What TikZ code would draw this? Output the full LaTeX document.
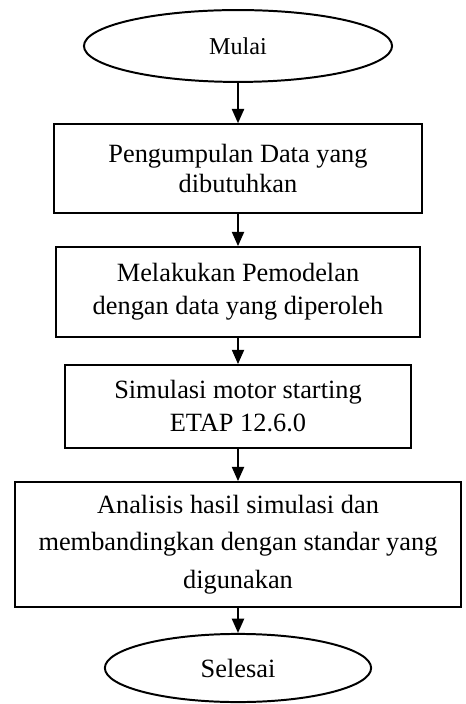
\documentclass[tikz,border=0pt]{standalone}
\usepackage{fontspec}
\setmainfont{Liberation Serif}
\usetikzlibrary{shapes,arrows.meta}

\begin{document}
\begin{tikzpicture}[
            terminal/.style={ellipse, draw, line width=0.9pt, inner sep=0pt, font=\fontsize{12pt}{15pt}\selectfont},
            box/.style={rectangle, draw, line width=0.8pt, inner sep=0pt, align=center, font=\fontsize{12pt}{15pt}\selectfont},
            arrow/.style={-{Triangle[length=6.5pt, width=5.5pt]}, line width=0.9pt}
        ]
        \useasboundingbox (0,0) rectangle (7.44,-11.264);

        % Start
        \node[terminal, minimum width=4.93cm, minimum height=1.15cm, font=\fontsize{11pt}{13pt}\selectfont] (mulai) at (3.808,-0.736) {Mulai};

        % Steps
        \node[box, minimum width=5.89cm, minimum height=1.42cm, font=\fontsize{12pt}{14pt}\selectfont] (data) at (3.808,-2.696) {Pengumpulan Data yang\\dibutuhkan};
        \node[box, minimum width=5.82cm, minimum height=1.44cm] (model) at (3.808,-4.672) {Melakukan Pemodelan\\dengan data yang diperoleh};
        \node[box, minimum width=5.54cm, minimum height=1.33cm] (simul) at (3.808,-6.504) {Simulasi motor starting\\ETAP 12.6.0};
        \node[box, minimum width=7.14cm, minimum height=2.0cm, font=\fontsize{12pt}{17pt}\selectfont] (analisis) at (3.808,-8.712) {Analisis hasil simulasi dan\\membandingkan dengan standar yang\\digunakan};

        % End
        \node[terminal, minimum width=4.26cm, minimum height=1.09cm] (selesai) at (3.808,-10.688) {Selesai};

        % Arrows
        \draw[arrow] (mulai) -- (data);
        \draw[arrow] (data) -- (model);
        \draw[arrow] (model) -- (simul);
        \draw[arrow] (simul) -- (analisis);
        \draw[arrow] (analisis) -- (selesai);

\end{tikzpicture}
\end{document}
